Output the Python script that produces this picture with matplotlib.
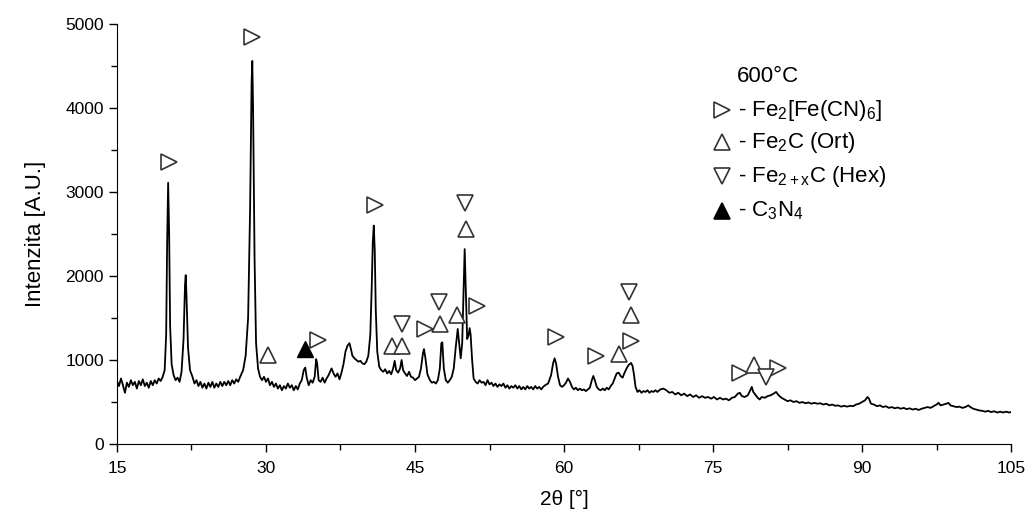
import numpy as np
import matplotlib.pyplot as plt
from matplotlib.ticker import MultipleLocator

plt.rcParams['font.family'] = ['Liberation Sans', 'DejaVu Sans']
plt.rcParams['mathtext.fontset'] = 'custom'
plt.rcParams['mathtext.rm'] = 'Liberation Sans'
plt.rcParams['mathtext.it'] = 'Liberation Sans'

# XRD pattern, 600 °C sample: (2theta, counts)
pattern = [
    (15.0, 750), (15.2, 690), (15.4, 780), (15.6, 700), (15.8, 610), (16.0, 730), (16.2, 680),
    (16.4, 760), (16.6, 700), (16.8, 740), (17.0, 660), (17.2, 750), (17.4, 700), (17.6, 770),
    (17.8, 690), (18.0, 730), (18.2, 670), (18.4, 750), (18.6, 700), (18.8, 760), (19.0, 720),
    (19.2, 780), (19.4, 750), (19.6, 800), (19.8, 880), (19.95, 1300), (20.05, 2400), (20.15, 3110),
    (20.25, 2500), (20.35, 1400), (20.5, 950), (20.7, 820), (20.9, 760), (21.1, 790), (21.3, 740),
    (21.5, 860), (21.7, 1250), (21.85, 1900), (21.92, 2010), (22.0, 1750), (22.15, 1150), (22.35, 880),
    (22.6, 800), (22.8, 720), (23.0, 760), (23.2, 690), (23.4, 740), (23.6, 670), (23.8, 720),
    (24.0, 660), (24.2, 730), (24.4, 680), (24.6, 740), (24.8, 670), (25.0, 720), (25.2, 680),
    (25.4, 740), (25.6, 690), (25.8, 740), (26.0, 700), (26.2, 750), (26.4, 700), (26.6, 760),
    (26.8, 720), (27.0, 770), (27.2, 740), (27.4, 800), (27.7, 880), (27.95, 1050), (28.2, 1500),
    (28.4, 2800), (28.55, 4300), (28.62, 4560), (28.7, 4000), (28.85, 2200), (29.0, 1200), (29.2, 900),
    (29.4, 800), (29.6, 760), (29.8, 800), (30.0, 740), (30.2, 780), (30.4, 700), (30.6, 740),
    (30.8, 680), (31.0, 720), (31.2, 660), (31.4, 700), (31.6, 640), (31.8, 690), (32.0, 660),
    (32.2, 720), (32.4, 670), (32.6, 700), (32.8, 640), (33.0, 690), (33.2, 650), (33.4, 720),
    (33.6, 760), (33.8, 880), (33.95, 910), (34.1, 790), (34.3, 700), (34.5, 760), (34.7, 730),
    (34.9, 800), (35.05, 1010), (35.15, 960), (35.3, 760), (35.5, 740), (35.7, 790), (35.9, 730),
    (36.1, 780), (36.3, 820), (36.6, 900), (36.8, 840), (37.0, 800), (37.2, 840), (37.4, 770),
    (37.6, 850), (37.8, 950), (38.0, 1100), (38.2, 1170), (38.4, 1200), (38.55, 1130), (38.7, 1050),
    (38.9, 1020), (39.1, 1000), (39.3, 980), (39.5, 990), (39.7, 960), (39.9, 950), (40.1, 980),
    (40.3, 1050), (40.5, 1300), (40.65, 1900), (40.75, 2400), (40.85, 2600), (40.95, 2300), (41.05, 1600),
    (41.2, 1100), (41.4, 920), (41.6, 880), (41.8, 860), (42.0, 890), (42.2, 840), (42.4, 870),
    (42.6, 830), (42.8, 900), (42.95, 990), (43.1, 880), (43.3, 850), (43.5, 900), (43.65, 1000),
    (43.8, 880), (44.0, 840), (44.2, 810), (44.4, 860), (44.6, 800), (44.8, 790), (45.0, 760),
    (45.2, 780), (45.4, 800), (45.6, 900), (45.8, 1080), (45.9, 1130), (46.05, 1020), (46.25, 830),
    (46.5, 760), (46.7, 730), (46.9, 740), (47.1, 720), (47.3, 760), (47.5, 900), (47.65, 1200),
    (47.75, 1210), (47.9, 900), (48.1, 760), (48.3, 730), (48.5, 760), (48.7, 800), (48.9, 900),
    (49.1, 1150), (49.3, 1370), (49.45, 1200), (49.6, 1020), (49.75, 1200), (49.9, 1900), (50.0, 2320),
    (50.1, 1900), (50.25, 1250), (50.4, 1300), (50.5, 1380), (50.6, 1300), (50.75, 1000), (50.9, 780),
    (51.1, 740), (51.3, 720), (51.5, 760), (51.7, 730), (51.9, 740), (52.1, 700), (52.3, 760),
    (52.5, 710), (52.7, 730), (52.9, 690), (53.1, 720), (53.3, 680), (53.5, 710), (53.7, 690),
    (53.9, 720), (54.1, 670), (54.3, 700), (54.5, 660), (54.7, 690), (54.9, 670), (55.1, 700),
    (55.3, 660), (55.5, 690), (55.7, 650), (55.9, 680), (56.1, 650), (56.3, 690), (56.5, 660),
    (56.7, 680), (56.9, 650), (57.1, 690), (57.3, 660), (57.5, 680), (57.7, 650), (57.9, 680),
    (58.1, 700), (58.4, 720), (58.7, 820), (58.9, 960), (59.05, 1020), (59.2, 960), (59.4, 800),
    (59.6, 700), (59.8, 680), (60.0, 700), (60.2, 730), (60.4, 780), (60.6, 740), (60.8, 680),
    (61.0, 650), (61.2, 670), (61.4, 640), (61.6, 660), (61.8, 640), (62.0, 650), (62.2, 630),
    (62.4, 650), (62.6, 670), (62.8, 760), (62.95, 810), (63.1, 760), (63.3, 680), (63.5, 650),
    (63.7, 640), (63.9, 660), (64.1, 640), (64.3, 670), (64.5, 650), (64.7, 690), (64.9, 720),
    (65.1, 780), (65.3, 840), (65.5, 850), (65.7, 810), (65.9, 790), (66.1, 850), (66.3, 900),
    (66.5, 940), (66.75, 965), (66.9, 930), (67.05, 820), (67.2, 680), (67.4, 620), (67.6, 640),
    (67.8, 610), (68.0, 630), (68.2, 620), (68.4, 640), (68.6, 610), (68.8, 630), (69.0, 620),
    (69.2, 640), (69.4, 620), (69.7, 650), (70.0, 660), (70.3, 640), (70.6, 610), (70.9, 620),
    (71.2, 590), (71.5, 610), (71.8, 580), (72.1, 600), (72.4, 570), (72.7, 590), (73.0, 560),
    (73.3, 580), (73.6, 550), (73.9, 570), (74.2, 550), (74.5, 560), (74.8, 540), (75.1, 560),
    (75.4, 530), (75.7, 550), (76.0, 530), (76.3, 540), (76.6, 520), (76.9, 550), (77.2, 560),
    (77.5, 600), (77.7, 610), (77.9, 570), (78.2, 560), (78.5, 580), (78.75, 640), (78.9, 680),
    (79.05, 620), (79.3, 580), (79.5, 550), (79.7, 530), (79.9, 560), (80.2, 550), (80.5, 570),
    (80.8, 580), (81.1, 600), (81.35, 620), (81.6, 580), (81.9, 550), (82.2, 530), (82.5, 510),
    (82.8, 520), (83.1, 500), (83.4, 510), (83.7, 490), (84.0, 500), (84.3, 485), (84.6, 495),
    (84.9, 480), (85.2, 490), (85.5, 480), (85.8, 485), (86.1, 470), (86.4, 480), (86.7, 460),
    (87.0, 470), (87.3, 455), (87.6, 460), (87.9, 445), (88.2, 455), (88.5, 445), (88.8, 455),
    (89.1, 450), (89.4, 470), (89.7, 480), (90.0, 500), (90.3, 520), (90.55, 560), (90.7, 540),
    (90.9, 480), (91.2, 470), (91.5, 450), (91.8, 460), (92.1, 440), (92.4, 450), (92.7, 430),
    (93.0, 440), (93.3, 425), (93.6, 435), (93.9, 420), (94.2, 430), (94.5, 415), (94.8, 425),
    (95.1, 410), (95.4, 420), (95.7, 405), (96.0, 420), (96.3, 430), (96.6, 440), (96.9, 430),
    (97.2, 450), (97.5, 470), (97.7, 490), (97.9, 460), (98.2, 470), (98.5, 480), (98.7, 490),
    (98.9, 460), (99.2, 450), (99.5, 440), (99.8, 445), (100.1, 430), (100.4, 440), (100.7, 460),
    (100.9, 440), (101.2, 420), (101.5, 410), (101.8, 400), (102.1, 395), (102.4, 385), (102.7, 395),
    (103.0, 380), (103.3, 390), (103.6, 375), (103.9, 385), (104.2, 375), (104.5, 385), (104.8, 375),
    (105.0, 380),
]
two_theta, counts = np.array(pattern).T

# phase markers (2theta, height where the symbol sits)
ferro_x = [20.2, 28.6, 35.2, 41.0, 46.0, 51.2, 59.2, 63.2, 66.75, 77.7, 81.5]
ferro_y = [3360, 4840, 1240, 2850, 1370, 1640, 1270, 1050, 1225, 845, 905]
ort_x = [30.2, 42.7, 43.7, 47.5, 49.2, 50.1, 65.5, 66.75, 79.1]
ort_y = [1060, 1170, 1170, 1430, 1535, 2560, 1070, 1535, 940]
hex_x = [43.7, 47.4, 50.0, 66.5, 80.3]
hex_y = [1430, 1690, 2870, 1810, 800]
c3n4_x = [33.9]
c3n4_y = [1130]

fig = plt.figure(figsize=(10.28, 5.16), dpi=100)
ax = fig.add_axes([0.1138, 0.1395, 0.8697, 0.814])

ax.plot(two_theta, counts, color='black', lw=1.3)

open_style = dict(ls='none', ms=12, mfc='white', mec='#333333', mew=1.2)
ax.plot(ferro_x, ferro_y, marker='>', **open_style)
ax.plot(ort_x, ort_y, marker='^', **open_style)
ax.plot(hex_x, hex_y, marker='v', **open_style)
ax.plot(c3n4_x, c3n4_y, marker='^', ls='none', ms=12, color='black')

ax.set_xlim(15, 105)
ax.set_ylim(0, 5000)
ax.xaxis.set_major_locator(MultipleLocator(15))
ax.xaxis.set_minor_locator(MultipleLocator(7.5))
ax.yaxis.set_major_locator(MultipleLocator(1000))
ax.yaxis.set_minor_locator(MultipleLocator(500))
ax.tick_params(which='major', direction='out', length=6, width=1, labelsize=12.5)
ax.tick_params(axis='x', which='major', pad=6)
ax.tick_params(which='minor', direction='out', length=4, width=1)
for side in ['top', 'right']:
    ax.spines[side].set_visible(False)

ax.set_xlabel('2θ [°]', fontsize=15, labelpad=10)
ax.set_ylabel('Intenzita [A.U.]', fontsize=16, labelpad=14)

# hand-made legend in the upper right
ax.text(0.728, 0.875, '600°C', transform=ax.transAxes, fontsize=16, ha='center', va='center')
legend_rows = [
    ('>', 'white', r'- Fe$_2$[Fe(CN)$_6$]'),
    ('^', 'white', r'- Fe$_2$C (Ort)'),
    ('v', 'white', r'- Fe$_{2+x}$C (Hex)'),
    ('^', 'black', r'- C$_3$N$_4$'),
]
row_y = [0.795, 0.718, 0.638, 0.555]
for (mk, fc, label), yy in zip(legend_rows, row_y):
    ax.plot([0.677], [yy], marker=mk, ms=12, mfc=fc, mec='#333333' if fc == 'white' else 'black',
            mew=1.2, transform=ax.transAxes, clip_on=False)
    ax.text(0.695, yy, label, transform=ax.transAxes, fontsize=16, ha='left', va='center')

fig.savefig('out.png', dpi=100)
